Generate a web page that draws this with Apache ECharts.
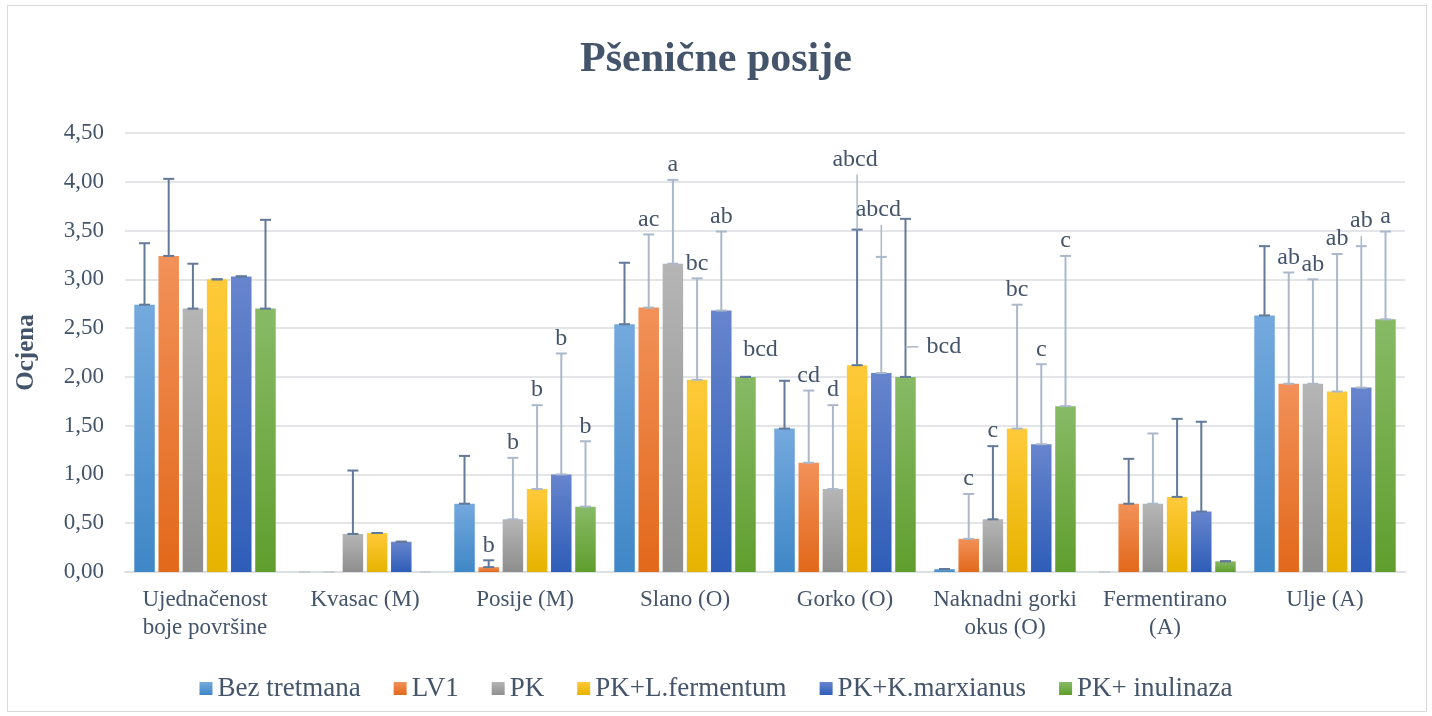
<!DOCTYPE html>
<html>
<head>
<meta charset="utf-8">
<title>Pšenične posije</title>
<script src="https://cdn.jsdelivr.net/npm/echarts@6/dist/echarts.min.js"></script>
<style>
  html, body { margin: 0; padding: 0; background: #fff; }
  #chart { width: 1432px; height: 716px; }
  .frame {
    position: absolute; left: 7px; top: 5px; width: 1418px; height: 705px;
    border: 1px solid #d9d9d9; pointer-events: none;
  }
</style>
</head>
<body>
<div id="chart"></div>
<div class="frame"></div>
<script>
// kategorije i tretmani
const categories = ['Ujednačenost\nboje površine', 'Kvasac (M)', 'Posije (M)', 'Slano (O)',
  'Gorko (O)', 'Naknadni gorki\nokus (O)', 'Fermentirano\n(A)', 'Ulje (A)'];
const treatments = ['Bez tretmana', 'LV1', 'PK', 'PK+L.fermentum', 'PK+K.marxianus', 'PK+ inulinaza'];
const yTicks = [0, 0.5, 1, 1.5, 2, 2.5, 3, 3.5, 4, 4.5];

// srednje ocjene
const bezTretmana = [2.74, 0, 0.70, 2.54, 1.47, 0.03, 0, 2.63];
const lv1 = [3.24, 0, 0.05, 2.71, 1.12, 0.34, 0.70, 1.93];
const pk = [2.70, 0.39, 0.54, 3.16, 0.85, 0.54, 0.70, 1.93];
const pkLFermentum = [3.00, 0.40, 0.85, 1.97, 2.12, 1.47, 0.77, 1.85];
const pkKMarxianus = [3.03, 0.31, 1.00, 2.68, 2.04, 1.31, 0.62, 1.89];
const pkInulinaza = [2.70, 0, 0.67, 2.00, 2.00, 1.70, 0.11, 2.59];

// standardne devijacije (plus)
const sdBez = [0.63, 0, 0.49, 0.63, 0.49, 0, 0, 0.71];
const sdLv1 = [0.79, 0, 0.07, 0.75, 0.74, 0.46, 0.46, 1.14];
const sdPk = [0.46, 0.65, 0.63, 0.86, 0.86, 0.75, 0.72, 1.07];
const sdPkL = [0, 0, 0.86, 1.04, 1.39, 1.27, 0.80, 1.41];
const sdPkK = [0, 0, 1.24, 0.81, 1.19, 0.82, 0.92, 1.45];
const sdInul = [0.91, 0, 0.67, 0, 1.62, 1.54, 0, 0.90];

// oznake signifikantnosti
const lblBez = ['', '', '', '', '', '', '', ''];
const lblLv1 = ['', '', 'b', 'ac', 'cd', 'c', '', 'ab'];
const lblPk = ['', '', 'b', 'a', 'd', 'c', '', 'ab'];
const lblPkL = ['', '', 'b', 'bc', 'abcd', 'bc', '', 'ab'];
const lblPkK = ['', '', 'b', 'ab', 'abcd', 'c', '', 'ab'];
const lblInul = ['', '', 'b', 'bcd', 'bcd', 'c', '', 'a'];

const means = [bezTretmana, lv1, pk, pkLFermentum, pkKMarxianus, pkInulinaza];
const sds = [sdBez, sdLv1, sdPk, sdPkL, sdPkK, sdInul];
const labels = [lblBez, lblLv1, lblPk, lblPkL, lblPkK, lblInul];

// --- stil ---
const FONT = '"Liberation Serif", "Times New Roman", serif';
const TEXT = '#44546a';
const BAR_W = 20.5;
const PITCH = 24.2;
const CAP = 5.5;
const DARK = '#62799a';
const LIGHT = '#abb8ca';
const ZERO = '#c9ced6';
const gradients = [
  ['#74a9dd', '#3f87c7'],
  ['#f29159', '#e2681a'],
  ['#b5b5b5', '#8e8e8e'],
  ['#ffca3a', '#e6b300'],
  ['#6785cd', '#2e5db8'],
  ['#88ba66', '#5f9e2e']
];
// ton linije pogreške (d = tamna, l = svijetla), po tretmanu i kategoriji
const whiskerTone = [
  'dldddddd',
  'dldllldl',
  'ddllldll',
  'ddlldldl',
  'ddlllldl',
  'dllddldl'
];
// posebni položaji oznaka (pomak od vrha pogreške, px)
const labelPlacement = {
  '5-3': { dx: 15, dy: -15 },
  '3-4': { dx: -2, dy: -58, leader: 'v' },
  '4-4': { dx: -3, dy: -35, leader: 'v' },
  '5-4': { dx: 21, dy: 128, align: 'left', vAlign: 'middle', leader: 'h' },
  '4-7': { dx: 0, dy: -13, leader: 'v' }
};

const points = [];
means.forEach((arr, s) => {
  arr.forEach((v, c) => {
    points.push({ value: [c, v, v + sds[s][c], s], label: labels[s][c], tone: whiskerTone[s][c] });
  });
});

const chart = echarts.init(document.getElementById('chart'));

function renderWhisker(params, api) {
  const p = points[params.dataIndex];
  const c = api.value(0), s = api.value(3);
  const base = api.coord([c, api.value(1)]);
  const top = api.coord([c, api.value(2)]);
  const x = base[0] + (s - 2.5) * PITCH;
  const color = api.value(1) === 0 ? ZERO : (p.tone === 'd' ? DARK : LIGHT);
  const children = [];
  const line = (x1, y1, x2, y2, col, w) => ({
    type: 'line', shape: { x1, y1, x2, y2 }, style: { stroke: col, lineWidth: w }
  });
  if (top[1] < base[1] - 0.5) children.push(line(x, base[1], x, top[1], color, 2));
  children.push(line(x - CAP, base[1], x + CAP, base[1], color, 2));
  children.push(line(x - CAP, top[1], x + CAP, top[1], color, 2));
  if (p.label) {
    const sp = labelPlacement[s + '-' + c] || { dx: 0, dy: -3 };
    const lx = x + sp.dx;
    const ly = top[1] + sp.dy;
    const align = sp.align || 'center';
    const vAlign = sp.vAlign || 'bottom';
    if (sp.leader === 'v') children.push(line(x, ly + 3, x, top[1], LIGHT, 1.5));
    if (sp.leader === 'h') children.push(line(x, ly, x + 13, ly, LIGHT, 1.5));
    children.push({
      type: 'text',
      style: {
        text: p.label, x: lx, y: ly,
        align: align, verticalAlign: vAlign,
        textAlign: align, textVerticalAlign: vAlign,
        font: '24px ' + FONT, fill: TEXT
      }
    });
  }
  return { type: 'group', children };
}

const barFill = s => ({
  type: 'linear', x: 0, y: 0, x2: 0, y2: 1,
  colorStops: [
    { offset: 0, color: gradients[s][0] },
    { offset: 1, color: gradients[s][1] }
  ]
});

const barSeries = treatments.map((name, s) => ({
  name,
  type: 'bar',
  data: means[s],
  barWidth: BAR_W,
  barGap: '18%',
  itemStyle: { color: barFill(s) }
}));

chart.setOption({
  animation: false,
  color: gradients.map(g => g[1]),
  title: {
    text: 'Pšenične posije',
    left: 'center',
    top: 34,
    textStyle: { fontFamily: FONT, fontSize: 42, fontWeight: 'bold', color: TEXT }
  },
  legend: {
    data: treatments.map((name, s) => ({ name, itemStyle: { color: barFill(s) } })),
    top: 670,
    left: 'center',
    icon: 'rect',
    itemWidth: 13,
    itemHeight: 13,
    itemGap: 33,
    textStyle: { fontFamily: FONT, fontSize: 27, color: TEXT }
  },
  grid: { left: 125, right: 27, top: 133, bottom: 144 },
  xAxis: {
    type: 'category',
    data: categories,
    axisTick: { show: false },
    axisLine: { lineStyle: { color: '#dcdfe3', width: 2 } },
    axisLabel: {
      interval: 0, margin: 14,
      fontFamily: FONT, fontSize: 23, lineHeight: 28, color: TEXT
    }
  },
  yAxis: {
    type: 'value',
    min: yTicks[0],
    max: yTicks[yTicks.length - 1],
    interval: 0.5,
    name: 'Ocjena',
    nameLocation: 'middle',
    nameGap: 86,
    nameTextStyle: { fontFamily: FONT, fontSize: 25, fontWeight: 'bold', color: TEXT },
    axisLabel: {
      margin: 21,
      fontFamily: FONT, fontSize: 23, color: TEXT,
      formatter: v => v.toFixed(2).replace('.', ',')
    },
    splitLine: { lineStyle: { color: '#e3e5e9', width: 2 } }
  },
  series: barSeries.concat([{
    name: 'sd',
    type: 'custom',
    renderItem: renderWhisker,
    data: points.map(p => p.value),
    encode: { x: 0, y: [1, 2] },
    z: 5,
    silent: true
  }])
});
</script>
</body>
</html>
